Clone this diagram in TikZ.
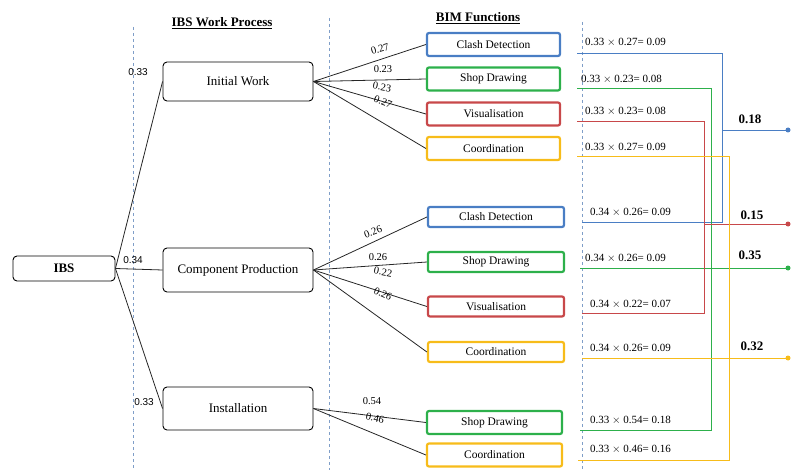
\documentclass[tikz,border=0pt]{standalone}
\usepackage{fontspec}
\setmainfont{Liberation Serif}
\newfontfamily\weightsans{Liberation Sans}
\usetikzlibrary{calc}

\definecolor{clashblue}{HTML}{4A7EC4}
\definecolor{shopgreen}{HTML}{2DB04B}
\definecolor{visred}{HTML}{C8484A}
\definecolor{coordyellow}{HTML}{F7BC1A}
\definecolor{guidegray}{HTML}{7F9EC8}

\tikzset{
  process/.style={draw,line width=0.9pt,rounded corners=4pt,minimum width=150pt,
    minimum height=40pt,font=\fontsize{13}{15}\selectfont},
  bim/.style={draw=#1,line width=2.2pt,rounded corners=2pt,minimum width=134pt,
    minimum height=22pt,inner sep=1pt,font=\fontsize{11.5}{13}\selectfont},
  weight/.style={font=\fontsize{10.5}{12}\selectfont,inner sep=0pt},
  share/.style={font=\weightsans\fontsize{10}{12}\selectfont,inner sep=0pt},
  product/.style={anchor=west,font=\fontsize{11}{13}\selectfont,inner sep=0pt},
  total/.style={font=\bfseries\fontsize{13}{15}\selectfont,inner sep=0pt},
  heading/.style={font=\bfseries\fontsize{13}{15}\selectfont,inner sep=0pt},
  guide/.style={guidegray,line width=0.8pt,dash pattern=on 3pt off 3pt},
  link/.style={line width=0.8pt,black!85},
  flow/.style={draw=#1,line width=0.9pt},
}

\begin{document}
\begin{tikzpicture}[x=1pt,y=-1pt]
  \useasboundingbox (0,0) rectangle (791,470);

  % column guides
  \draw[guide] (133,27) -- (133,470);
  \draw[guide] (329,18) -- (329,470);
  \draw[guide] (582,22) -- (582,470);

  \node[heading] (headwork) at (222,23) {\underline{IBS Work Process}};
  \node[heading] (headbim) at (478,18) {\underline{BIM Functions}};

  % process level
  \node[process,font=\bfseries\fontsize{13}{15}\selectfont,minimum width=102pt,
    minimum height=25pt] (ibs) at (64,268.5) {IBS};
  \node[process,minimum height=39pt] (initial) at (238,81.5) {Initial Work};
  \node[process,minimum height=44pt] (component) at (238,270) {Component Production};
  \node[process,minimum height=43pt] (install) at (238,408.5) {Installation};

  \draw[link] (ibs.east) -- (initial.west);
  \draw[link] (ibs.east) -- (component.west);
  \draw[link] (ibs.east) -- (install.west);
  \node[share] (w1) at (138,72) {0.33};
  \node[share] (w2) at (133,260) {0.34};
  \node[share] (w3) at (144,402) {0.33};

  % BIM functions, initial work
  \node[bim=clashblue,minimum width=133pt,minimum height=23pt] (clashA) at (493.5,44.5) {Clash Detection};
  \node[bim=shopgreen,minimum width=133pt,minimum height=23pt] (shopA) at (493.5,79) {Shop Drawing};
  \node[bim=visred,minimum width=133pt,minimum height=23pt] (visA) at (493.5,114) {Visualisation};
  \node[bim=coordyellow,minimum width=133pt,minimum height=23pt] (coordA) at (493.5,148.5) {Coordination};
  \foreach \f in {clashA,shopA,visA,coordA}
    \draw[link] (initial.east) -- (\f.west);
  \node[weight,rotate=16] at (380,49) {0.27};
  \node[weight] at (383,69) {0.23};
  \node[weight,rotate=-10] at (382,87) {0.23};
  \node[weight,rotate=-22] at (383,102) {0.27};

  % BIM functions, component production
  \node[bim=clashblue,minimum width=136pt,minimum height=20pt] (clashB) at (496,217) {Clash Detection};
  \node[bim=shopgreen,minimum width=136pt,minimum height=20pt] (shopB) at (496,262) {Shop Drawing};
  \node[bim=visred,minimum width=136pt,minimum height=20pt] (visB) at (496,306.5) {Visualisation};
  \node[bim=coordyellow,minimum width=136pt,minimum height=20pt] (coordB) at (496,352) {Coordination};
  \foreach \f in {clashB,shopB,visB,coordB}
    \draw[link] (component.east) -- (\f.west);
  \node[weight,rotate=20] at (373,232) {0.26};
  \node[weight] at (378,257) {0.26};
  \node[weight,rotate=-10] at (383,272) {0.22};
  \node[weight,rotate=-24] at (383,294) {0.26};

  % BIM functions, installation
  \node[bim=shopgreen,minimum width=135pt,minimum height=23pt] (shopC) at (494.5,422.5) {Shop Drawing};
  \node[bim=coordyellow,minimum width=135pt,minimum height=23pt] (coordC) at (494.5,455) {Coordination};
  \foreach \f in {shopC,coordC}
    \draw[link] (install.east) -- (\f.west);
  \node[weight] at (372,401) {0.54};
  \node[weight,rotate=-12] at (375,418) {0.46};

  % weighted products
  \node[product] (pA1) at (585,42) {0.33 $\times$ 0.27= 0.09};
  \node[product] (pA2) at (581,79) {0.33 $\times$ 0.23= 0.08};
  \node[product] (pA3) at (585,111) {0.33 $\times$ 0.23= 0.08};
  \node[product] (pA4) at (585,147) {0.33 $\times$ 0.27= 0.09};
  \node[product] (pB1) at (590,212) {0.34 $\times$ 0.26= 0.09};
  \node[product] (pB2) at (585,258) {0.34 $\times$ 0.26= 0.09};
  \node[product] (pB3) at (590,304) {0.34 $\times$ 0.22= 0.07};
  \node[product] (pB4) at (590,348) {0.34 $\times$ 0.26= 0.09};
  \node[product] (pC1) at (590,420) {0.33 $\times$ 0.54= 0.18};
  \node[product] (pC2) at (590,449) {0.33 $\times$ 0.46= 0.16};

  % totals
  \node[total] (tclash) at (750,119) {0.18};
  \node[total] (tvis) at (752,215) {0.15};
  \node[total] (tshop) at (750,255) {0.35};
  \node[total] (tcoord) at (752,346) {0.32};

  \coordinate (eclash) at (788,130);
  \coordinate (evis) at (788,224);
  \coordinate (eshop) at (788,268);
  \coordinate (ecoord) at (788,358);

  % summing lines
  \draw[flow=clashblue] (577,53) -- (722,53) -- (722,222) -- (582,222);
  \draw[flow=clashblue] (722,130) -- (eclash);
  \draw[flow=shopgreen] (577,88) -- (711,88) -- (711,430) -- (580,430);
  \draw[flow=shopgreen] (580,268) -- (eshop);
  \draw[flow=visred] (577,121) -- (704,121) -- (704,313) -- (582,313);
  \draw[flow=visred] (704,224) -- (evis);
  \draw[flow=coordyellow] (577,156) -- (729,156) -- (729,460) -- (578,460);
  \draw[flow=coordyellow] (582,358) -- (ecoord);

  \fill[clashblue] (eclash) circle (2.5pt);
  \fill[visred] (evis) circle (2.5pt);
  \fill[shopgreen] (eshop) circle (2.5pt);
  \fill[coordyellow] (ecoord) circle (2.5pt);
\end{tikzpicture}
\end{document}
